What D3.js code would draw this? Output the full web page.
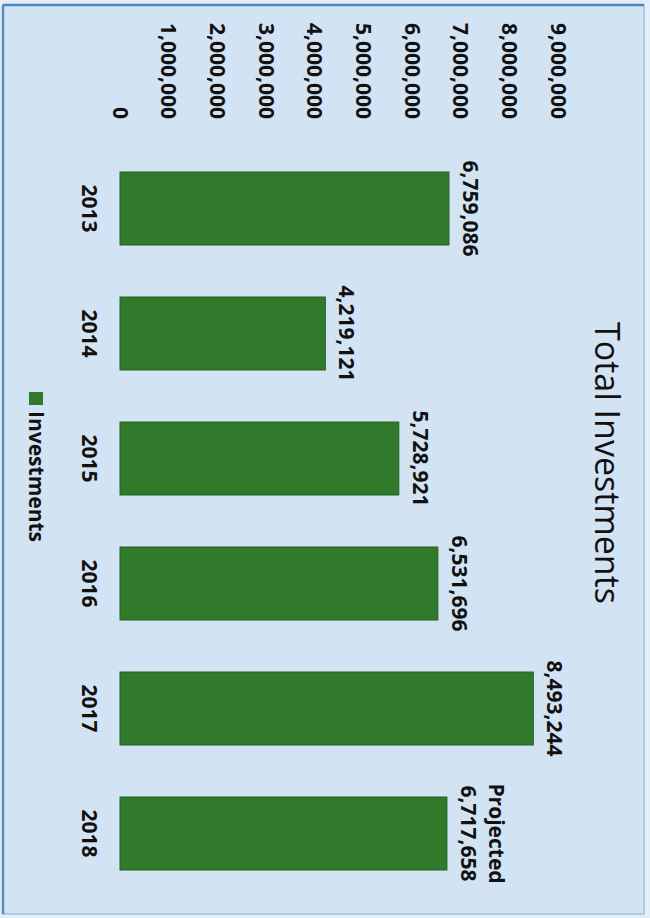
<!DOCTYPE html>
<html>
<head>
<meta charset="utf-8">
<script src="https://cdn.jsdelivr.net/npm/d3@7"></script>
<style>
  html, body { margin: 0; padding: 0; background: #e4eef8; }
  svg { display: block; }
  text { font-family: "Open Sans", sans-serif; fill: #111; }
</style>
</head>
<body>
<div id="chart-container"></div>
<script>
// Chart data
const years = ["2013", "2014", "2015", "2016", "2017", "2018"];
const investments = [6759086, 4219121, 5728921, 6531696, 8493244, 6717658];
const notes = ["", "", "", "", "", "Projected"];
const valueTicks = [0, 1000000, 2000000, 3000000, 4000000, 5000000, 6000000, 7000000, 8000000, 9000000];
const seriesName = "Investments";
const chartTitle = "Total Investments";

// The picture is the chart turned a quarter turn clockwise,
// so draw it in a 918 x 650 frame and rotate the whole group.
const pageW = 650, pageH = 918;

const svg = d3.select("#chart-container")
  .append("svg")
    .attr("width", pageW)
    .attr("height", pageH);

// Panel background and border
svg.append("rect")
  .attr("x", 3).attr("y", 5)
  .attr("width", 641).attr("height", 909)
  .attr("fill", "#d2e3f4")
  .attr("stroke", "#9fc2e2")
  .attr("stroke-width", 1.5);

svg.append("line")
  .attr("x1", 3).attr("x2", 644).attr("y1", 5).attr("y2", 5)
  .attr("stroke", "#4f86b9").attr("stroke-width", 2.5);
svg.append("line")
  .attr("x1", 3).attr("x2", 3).attr("y1", 5).attr("y2", 914)
  .attr("stroke", "#5a8ebf").attr("stroke-width", 2.5);

const g = svg.append("g")
  .attr("transform", `translate(${pageW},0) rotate(90)`);

// Scales
const x = d3.scaleBand()
  .domain(years)
  .range([109.5, 932.5])
  .paddingInner(0.416)
  .paddingOuter(0.5);

const y = d3.scaleLinear()
  .domain([0, 9000000])
  .range([530, 92]);

const fmt = d3.format(",");

// Value axis
g.append("g")
  .attr("transform", "translate(125,0)")
  .call(d3.axisLeft(y).tickValues(valueTicks).tickSize(0).tickPadding(6).tickFormat(fmt))
  .call(a => a.select(".domain").remove())
  .selectAll("text")
    .style("font-size", "21px")
    .style("font-weight", "bold")
    .attr("fill", "#111");

// Category axis
g.append("g")
  .attr("transform", `translate(0,${y(0)})`)
  .call(d3.axisBottom(x).tickSize(0).tickPadding(23))
  .call(a => a.select(".domain").remove())
  .selectAll("text")
    .style("font-size", "21px")
    .style("font-weight", "bold")
    .attr("fill", "#111");

// Bars
g.append("g")
  .selectAll("rect")
  .data(investments)
  .join("rect")
    .attr("x", (d, i) => x(years[i]))
    .attr("y", d => y(d))
    .attr("width", x.bandwidth())
    .attr("height", d => y(0) - y(d))
    .attr("fill", "#317a2c")
    .attr("stroke", "#23621f")
    .attr("stroke-width", 1);

// Value labels
g.append("g")
  .selectAll("text")
  .data(investments)
  .join("text")
    .attr("x", (d, i) => x(years[i]) + x.bandwidth() / 2)
    .attr("y", d => y(d) - 14)
    .attr("text-anchor", "middle")
    .style("font-size", "21px")
    .style("font-weight", "bold")
    .text(d => fmt(d));

// Extra note above a label (projected year)
g.append("g")
  .selectAll("text")
  .data(investments)
  .join("text")
    .attr("x", (d, i) => x(years[i]) + x.bandwidth() / 2)
    .attr("y", d => y(d) - 42)
    .attr("text-anchor", "middle")
    .style("font-size", "21px")
    .style("font-weight", "bold")
    .text((d, i) => notes[i]);

// Title
g.append("text")
  .attr("x", 463)
  .attr("y", 55)
  .attr("text-anchor", "middle")
  .style("font-size", "34px")
  .text(chartTitle);

// Legend
const legend = g.append("g")
  .attr("transform", "translate(392,0)");

legend.append("rect")
  .attr("x", 0)
  .attr("y", 607)
  .attr("width", 13)
  .attr("height", 14)
  .attr("fill", "#317a2c");

legend.append("text")
  .attr("x", 19)
  .attr("y", 621)
  .style("font-size", "21px")
  .style("font-weight", "bold")
  .text(seriesName);
</script>
</body>
</html>
